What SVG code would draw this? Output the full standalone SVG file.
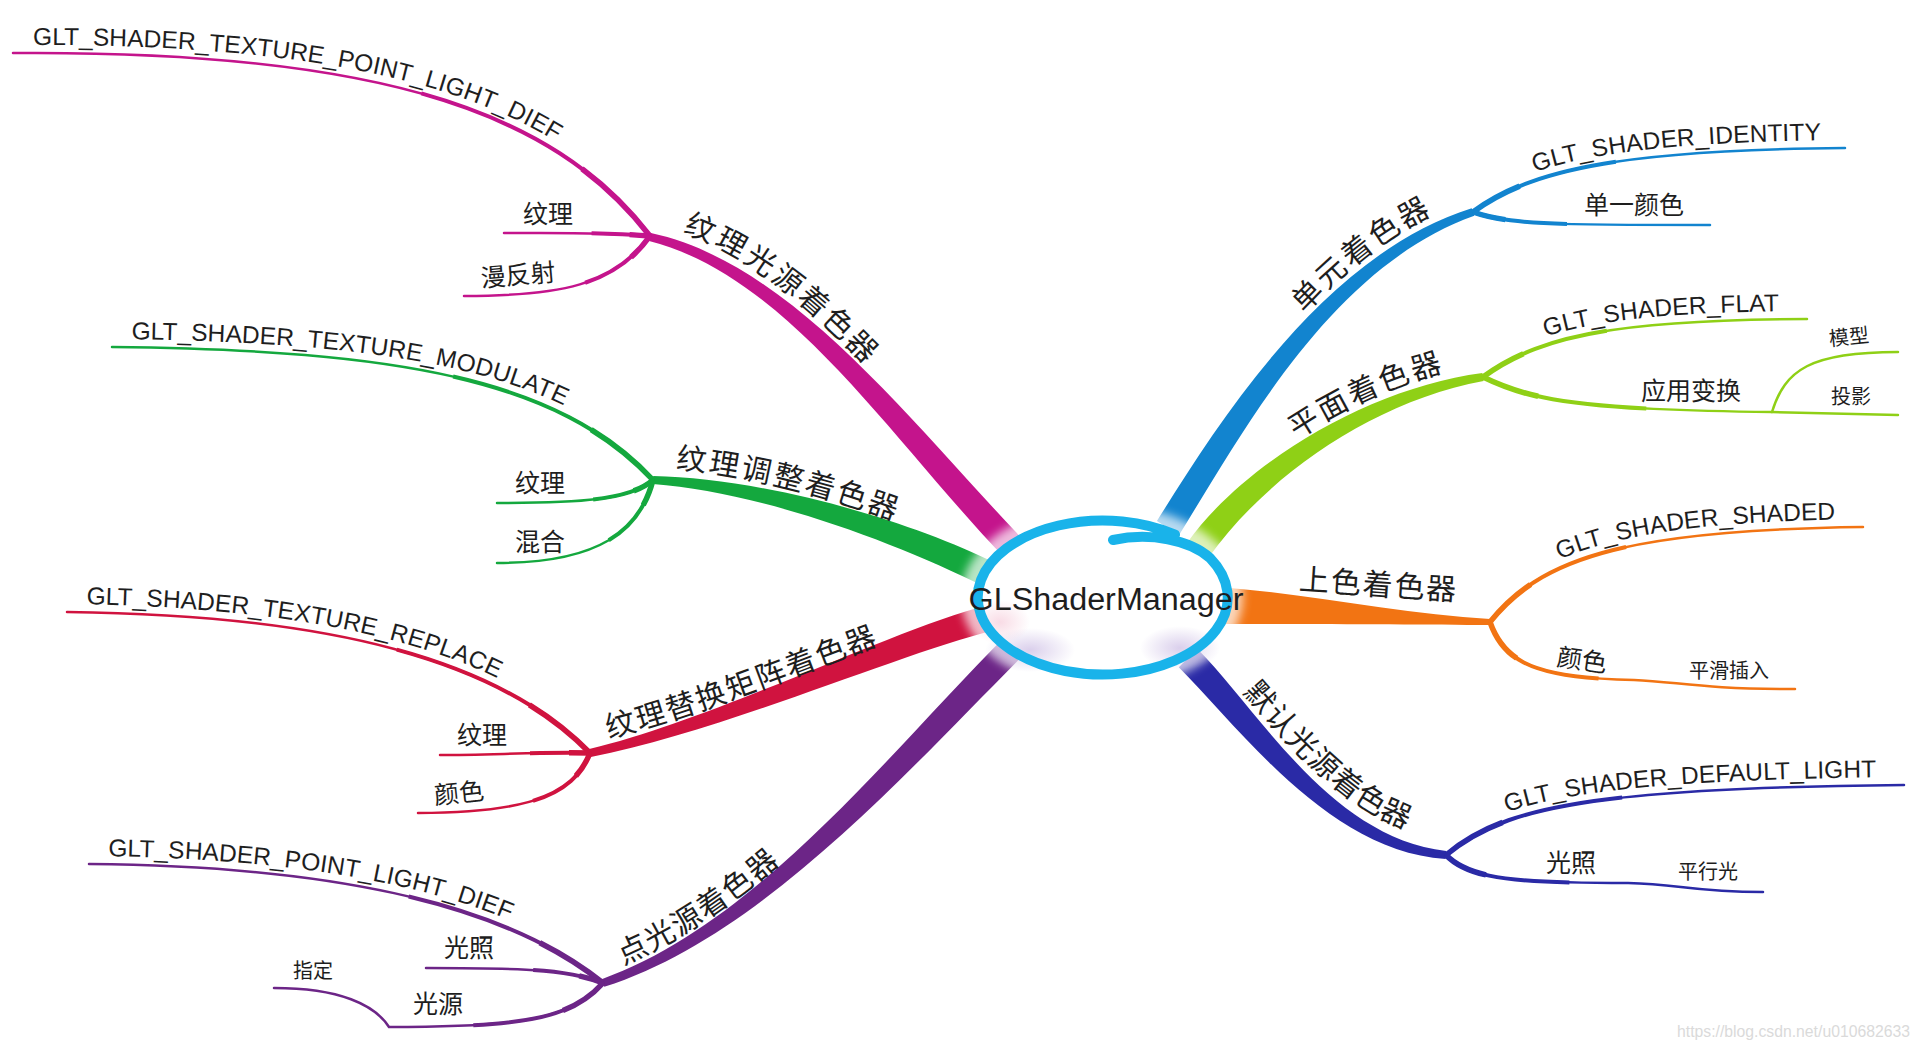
<svg xmlns="http://www.w3.org/2000/svg" xmlns:xlink="http://www.w3.org/1999/xlink" width="1920" height="1048" viewBox="0 0 1920 1048">
<style>
.t{font-family:"Liberation Sans","Noto Sans CJK SC",sans-serif;fill:#1e1e1e}
.glt{font-size:24.5px}
.mainl{font-size:30px;letter-spacing:2px}
.lbl{font-size:25px;text-anchor:middle}
.sm{font-size:20px;text-anchor:middle}
.mag{fill:#c4148c;stroke:#c4148c}
.grn{fill:#14a83e;stroke:#14a83e}
.red{fill:#d0133f;stroke:#d0133f}
.pur{fill:#6c2587;stroke:#6c2587}
.blu{fill:#1284cf;stroke:#1284cf}
.lim{fill:#8fd016;stroke:#8fd016}
.org{fill:#f27413;stroke:#f27413}
.dbl{fill:#2a2aa6;stroke:#2a2aa6}
.main{stroke:none}
.sub{fill:none;stroke-width:2.5;stroke-linecap:round}
.sub2{fill:none;stroke-width:4;stroke-dasharray:40 200}
.sub3{fill:none;stroke-width:5.5;stroke-dasharray:14 200}
</style>
<defs>
<filter id="blur" x="-20%" y="-20%" width="140%" height="140%"><feGaussianBlur stdDeviation="5"/></filter>
<radialGradient id="lav"><stop offset="0" stop-color="#bca8dc" stop-opacity="0.55"/><stop offset="1" stop-color="#bca8dc" stop-opacity="0"/></radialGradient>
<radialGradient id="pnk"><stop offset="0" stop-color="#f2b8cc" stop-opacity="0.5"/><stop offset="1" stop-color="#f2b8cc" stop-opacity="0"/></radialGradient>
<path id="s1a" pathLength="100" d="M650,236 C560,120 400,50 13,53"/>
<path id="s1b" pathLength="100" d="M650,236 C600,232 550,233 504,233"/>
<path id="s1c" pathLength="100" d="M650,236 C615,285 560,296 464,296"/>
<path id="s2a" pathLength="100" d="M653,480 C560,380 400,350 112,347"/>
<path id="s2b" pathLength="100" d="M653,480 C630,500 580,503 497,503"/>
<path id="s2c" pathLength="100" d="M653,480 C640,530 600,563 497,563"/>
<path id="s3a" pathLength="100" d="M590,753 C500,660 330,615 67,612"/>
<path id="s3b" pathLength="100" d="M590,753 C540,752 490,755 440,755"/>
<path id="s3c" pathLength="100" d="M590,753 C575,790 540,813 418,813"/>
<path id="s4a" pathLength="100" d="M603,983 C500,900 320,866 89,864"/>
<path id="s4b" pathLength="100" d="M603,983 C570,970 530,968 426,968"/>
<path id="s4c" pathLength="100" d="M603,983 C570,1020 520,1027 389,1027 C375,1005 340,988 274,988"/>
<path id="s5a" pathLength="100" d="M1473,212 C1530,170 1620,150 1845,148"/>
<path id="s5b" pathLength="100" d="M1473,212 C1510,225 1560,225 1710,225"/>
<path id="s6a" pathLength="100" d="M1483,377 C1540,335 1620,320 1807,319"/>
<path id="s6b" pathLength="100" d="M1483,377 C1530,400 1580,410 1772,412 L1898,415"/>
<path id="s6c" pathLength="100" d="M1772,412 C1785,370 1810,352 1898,352"/>
<path id="s7a" pathLength="100" d="M1490,622 C1540,560 1620,530 1863,527"/>
<path id="s7b" pathLength="100" d="M1490,622 C1505,665 1540,678 1634,680 C1680,682 1700,689 1795,689"/>
<path id="s8a" pathLength="100" d="M1446,855 C1500,810 1580,788 1904,785"/>
<path id="s8b" pathLength="100" d="M1446,855 C1470,880 1520,883 1628,883 C1680,884 1690,892 1763,892"/>
<path id="tA1" d="M13,53 C400,50 560,120 650,236"/>
<path id="tA2" d="M112,347 C400,350 560,380 653,480"/>
<path id="tA3" d="M67,612 C330,615 500,660 590,753"/>
<path id="tA4" d="M89,864 C320,866 500,900 603,983"/>
<path id="tA5" d="M1473,212 C1530,170 1620,150 1845,148"/>
<path id="tA6" d="M1483,377 C1540,335 1620,320 1807,319"/>
<path id="tA7" d="M1490,622 C1540,560 1620,530 1863,527"/>
<path id="tA8" d="M1446,855 C1500,810 1580,788 1904,785"/>
<path id="mL1" d="M650,237 C790,270 900,430 1015,550"/>
<path id="mL2" d="M653,480 C760,485 900,530 990,575"/>
<path id="mL3" d="M590,753 C720,725 900,640 990,618"/>
<path id="mL4" d="M603,983 C760,930 900,760 1015,645"/>
<path id="mL5" d="M1168,528 C1235,420 1330,260 1473,212"/>
<path id="mL6" d="M1198,550 C1255,470 1370,395 1483,377"/>
<path id="mL7" d="M1225,606 C1320,610 1400,618 1490,622"/>
<path id="mL8" d="M1188,658 C1250,720 1330,845 1446,855"/>
</defs>
<rect width="1920" height="1048" fill="#ffffff"/>
<g id="connectors">
<path class="main mag" d="M1005.6,559 C890.6,439 788.4,276.8 649.1,240.9 L650.9,233.1 C791.6,263.2 909.4,421 1024.4,541 Z"/>
<path class="main grn" d="M984.2,586.6 C894.2,541.6 759.7,492 652.8,484 L653.2,476 C760.3,478 905.8,518.4 995.8,563.4 Z"/>
<path class="main red" d="M993.1,630.6 C903.1,652.6 721.5,731.8 590.8,756.9 L589.2,749.1 C718.5,718.2 896.9,627.4 986.9,605.4 Z"/>
<path class="main pur" d="M1024.2,654.2 C909.2,769.2 762.2,936.6 604.3,986.8 L601.7,979.2 C757.8,923.4 890.8,750.8 1005.8,635.8 Z"/>
<path class="main blu" d="M1156.9,521.1 C1223.9,413.1 1327.8,253.4 1471.7,208.2 L1474.3,215.8 C1332.2,266.6 1246.1,426.9 1179.1,534.9 Z"/>
<path class="main lim" d="M1187.4,542.5 C1244.4,462.5 1368.9,388.1 1482.4,373 L1483.6,381 C1371.1,401.9 1265.6,477.5 1208.6,557.5 Z"/>
<path class="main org" d="M1215,587 C1300,592 1400,614 1490,619 L1490,625 C1420,625 1320,624 1215,624 Z"/>
<path class="main dbl" d="M1197.2,648.8 C1259.2,710.8 1330.6,838 1446.3,851 L1445.7,859 C1329.4,852 1240.8,729.2 1178.8,667.2 Z"/>
<g class="mag"><use href="#s1a" class="sub"/><use href="#s1a" class="sub2"/><use href="#s1a" class="sub3"/><use href="#s1b" class="sub"/><use href="#s1b" class="sub2"/><use href="#s1b" class="sub3"/><use href="#s1c" class="sub"/><use href="#s1c" class="sub2"/><use href="#s1c" class="sub3"/></g>
<g class="grn"><use href="#s2a" class="sub"/><use href="#s2a" class="sub2"/><use href="#s2a" class="sub3"/><use href="#s2b" class="sub"/><use href="#s2b" class="sub2"/><use href="#s2b" class="sub3"/><use href="#s2c" class="sub"/><use href="#s2c" class="sub2"/><use href="#s2c" class="sub3"/></g>
<g class="red"><use href="#s3a" class="sub"/><use href="#s3a" class="sub2"/><use href="#s3a" class="sub3"/><use href="#s3b" class="sub"/><use href="#s3b" class="sub2"/><use href="#s3b" class="sub3"/><use href="#s3c" class="sub"/><use href="#s3c" class="sub2"/><use href="#s3c" class="sub3"/></g>
<g class="pur"><use href="#s4a" class="sub"/><use href="#s4a" class="sub2"/><use href="#s4a" class="sub3"/><use href="#s4b" class="sub"/><use href="#s4b" class="sub2"/><use href="#s4b" class="sub3"/><use href="#s4c" class="sub"/><use href="#s4c" class="sub2"/><use href="#s4c" class="sub3"/></g>
<g class="blu"><use href="#s5a" class="sub"/><use href="#s5a" class="sub2"/><use href="#s5a" class="sub3"/><use href="#s5b" class="sub"/><use href="#s5b" class="sub2"/><use href="#s5b" class="sub3"/></g>
<g class="lim"><use href="#s6a" class="sub"/><use href="#s6a" class="sub2"/><use href="#s6a" class="sub3"/><use href="#s6b" class="sub"/><use href="#s6b" class="sub2"/><use href="#s6b" class="sub3"/><use href="#s6c" class="sub"/></g>
<g class="org"><use href="#s7a" class="sub"/><use href="#s7a" class="sub2"/><use href="#s7a" class="sub3"/><use href="#s7b" class="sub"/><use href="#s7b" class="sub2"/><use href="#s7b" class="sub3"/></g>
<g class="dbl"><use href="#s8a" class="sub"/><use href="#s8a" class="sub2"/><use href="#s8a" class="sub3"/><use href="#s8b" class="sub"/><use href="#s8b" class="sub2"/><use href="#s8b" class="sub3"/></g>
</g>
<g id="center">
<ellipse cx="1102" cy="597" rx="128" ry="80" fill="none" stroke="#ffffff" stroke-width="26" opacity="0.7" filter="url(#blur)"/>
<ellipse cx="1102" cy="597" rx="124" ry="76" fill="#ffffff"/>
<ellipse cx="1030" cy="650" rx="45" ry="22" fill="url(#lav)"/>
<ellipse cx="1180" cy="648" rx="40" ry="22" fill="url(#lav)"/>
<ellipse cx="1000" cy="622" rx="30" ry="22" fill="url(#pnk)"/>
<path d="M1113,540 C1150,532 1190,540 1210,558 A125,77 0 1,1 1175,534.7" fill="none" stroke="#19b3ea" stroke-width="10" stroke-linecap="round"/>
<text class="t" x="1106" y="610" font-size="31" text-anchor="middle" textLength="275" lengthAdjust="spacingAndGlyphs">GLShaderManager</text>
</g>
<g id="n-texture-point-light">
<text class="t mainl" dy="-14"><textPath href="#mL1" startOffset="28">纹理光源着色器</textPath></text>
<text class="t glt" dy="-8"><textPath href="#tA1" startOffset="20">GLT_SHADER_TEXTURE_POINT_LIGHT_DIEF</textPath></text>
<text class="t lbl" x="548" y="223">纹理</text>
<text class="t lbl" x="518" y="284" transform="rotate(-5 518 275)">漫反射</text>
</g>
<g id="n-texture-modulate">
<text class="t mainl" dy="-13"><textPath href="#mL2" startOffset="21">纹理调整着色器</textPath></text>
<text class="t glt" dy="-8"><textPath href="#tA2" startOffset="19">GLT_SHADER_TEXTURE_MODULATE</textPath></text>
<text class="t lbl" x="540" y="492">纹理</text>
<text class="t lbl" x="540" y="551">混合</text>
</g>
<g id="n-texture-replace">
<text class="t mainl" dy="-10"><textPath href="#mL3" startOffset="22">纹理替换矩阵着色器</textPath></text>
<text class="t glt" dy="-8"><textPath href="#tA3" startOffset="19">GLT_SHADER_TEXTURE_REPLACE</textPath></text>
<text class="t lbl" x="482" y="744">纹理</text>
<text class="t lbl" x="459" y="802" transform="rotate(-6 459 793)">颜色</text>
</g>
<g id="n-point-light">
<text class="t mainl" dy="-10"><textPath href="#mL4" startOffset="26">点光源着色器</textPath></text>
<text class="t glt" dy="-8"><textPath href="#tA4" startOffset="19">GLT_SHADER_POINT_LIGHT_DIEF</textPath></text>
<text class="t lbl" x="469" y="957">光照</text>
<text class="t lbl" x="438" y="1013">光源</text>
<text class="t sm" x="313" y="978">指定</text>
</g>
<g id="n-identity">
<text class="t mainl" dy="-13"><textPath href="#mL5" startOffset="252">单元着色器</textPath></text>
<text class="t glt" dy="-8"><textPath href="#tA5" startOffset="72">GLT_SHADER_IDENTITY</textPath></text>
<text class="t lbl" x="1634" y="214">单一颜色</text>
</g>
<g id="n-flat">
<text class="t mainl" dy="-13"><textPath href="#mL6" startOffset="146">平面着色器</textPath></text>
<text class="t glt" dy="-8"><textPath href="#tA6" startOffset="73">GLT_SHADER_FLAT</textPath></text>
<text class="t lbl" x="1691" y="400">应用变换</text>
<text class="t sm" x="1849" y="344" transform="rotate(-6 1849 337)">模型</text>
<text class="t sm" x="1851" y="404">投影</text>
</g>
<g id="n-shaded">
<text class="t mainl" dy="-20"><textPath href="#mL7" startOffset="72">上色着色器</textPath></text>
<text class="t glt" dy="-8"><textPath href="#tA7" startOffset="92">GLT_SHADER_SHADED</textPath></text>
<text class="t lbl" x="1582" y="669" transform="rotate(8 1582 660)">颜色</text>
<text class="t sm" x="1729" y="678">平滑插入</text>
</g>
<g id="n-default-light">
<text class="t mainl" dy="-17"><textPath href="#mL8" startOffset="62">默认光源着色器</textPath></text>
<text class="t glt" dy="-8"><textPath href="#tA8" startOffset="73">GLT_SHADER_DEFAULT_LIGHT</textPath></text>
<text class="t lbl" x="1571" y="872">光照</text>
<text class="t sm" x="1708" y="879">平行光</text>
</g>
<text x="1677" y="1037" font-family="Liberation Sans, sans-serif" font-size="16" fill="#dadada" textLength="233" lengthAdjust="spacingAndGlyphs">https://blog.csdn.net/u010682633</text>
</svg>
